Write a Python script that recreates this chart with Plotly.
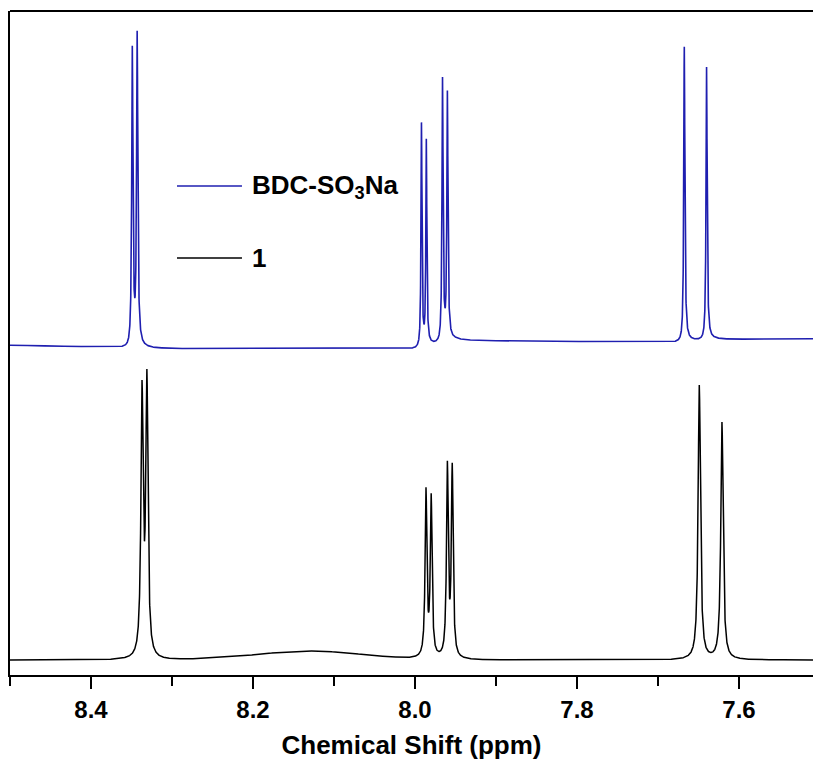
import numpy as np
import plotly.graph_objects as go

# ---------------- data ----------------
X_RANGE = [8.5, 7.5086]                      # ppm, reversed axis
TICK_VALS = [8.4, 8.2, 8.0, 7.8, 7.6]
TICK_TEXT = ["8.4", "8.2", "8.0", "7.8", "7.6"]
MINOR_TICK_VALS = [8.5, 8.3, 8.1, 7.9, 7.7]
X_TITLE = "Chemical Shift (ppm)"

# Upper spectrum (BDC-SO3Na): peak positions (ppm) and apex heights above baseline (a.u.)
BLUE_NAME = "BDC-SO<sub>3</sub>Na"
BLUE_PEAK_PPM = [8.349, 8.343, 7.992, 7.986, 7.966, 7.960, 7.6675, 7.640]
BLUE_PEAK_HEIGHT = [304, 316, 226, 207, 267, 250, 295, 273]
BLUE_PEAK_HWHM = [0.0009, 0.0009, 0.0007, 0.0007, 0.0008, 0.0008, 0.0008, 0.0008]
BLUE_DISPERSION = 0.04
BLUE_BASE_PPM = [8.50, 8.36, 8.335, 8.00, 7.95, 7.68, 7.63, 7.51]
BLUE_BASE_VAL = [330, 328, 326, 327, 334, 333, 335, 336]

# Lower spectrum (1)
BLACK_NAME = "1"
BLACK_PEAK_PPM = [8.337, 8.331, 7.9864, 7.980, 7.960, 7.954, 7.649, 7.621]
BLACK_PEAK_HEIGHT = [280, 291, 172, 166, 199, 197, 275, 238]
BLACK_PEAK_HWHM = [0.0016, 0.0016, 0.0013, 0.0013, 0.0013, 0.0013, 0.0017, 0.0017]
BLACK_HUMP_PPM = [8.13]
BLACK_HUMP_HEIGHT = [9]
BLACK_HUMP_SIGMA = [0.065]
BLACK_BASE_PPM = [8.50, 7.51]
BLACK_BASE_VAL = [15, 15]

BLUE_COLOR = "#1f1fb0"
BLACK_COLOR = "#000000"

# ---------------- build spectra from the peak tables ----------------
ppm = np.arange(8.5, 7.5, -0.0001)


def lorentz(x, x0, g):
    return 1.0 / (1.0 + ((x - x0) / g) ** 2)


def spectrum(pos, height, hwhm, base_ppm, base_val, disp=0.0,
             hump_pos=(), hump_h=(), hump_s=()):
    pos = np.array(pos); height = np.array(height, float); hwhm = np.array(hwhm)
    # amplitudes such that the summed apexes equal the read heights
    M = np.array([[lorentz(p, q, g) for q, g in zip(pos, hwhm)] for p in pos])
    amp = np.linalg.solve(M, height)
    y = np.interp(ppm[::-1], base_ppm[::-1], base_val[::-1])[::-1].astype(float)
    for a, q, g in zip(amp, pos, hwhm):
        d = (ppm - q) / g
        y += a / (1 + d ** 2)
        y += -disp * a * d / (1 + d ** 2)
    for q, h, s in zip(hump_pos, hump_h, hump_s):
        y += h * np.exp(-0.5 * ((ppm - q) / s) ** 2)
    return y


blue_y = spectrum(BLUE_PEAK_PPM, BLUE_PEAK_HEIGHT, BLUE_PEAK_HWHM,
                  BLUE_BASE_PPM, BLUE_BASE_VAL, disp=BLUE_DISPERSION)
black_y = spectrum(BLACK_PEAK_PPM, BLACK_PEAK_HEIGHT, BLACK_PEAK_HWHM,
                   BLACK_BASE_PPM, BLACK_BASE_VAL,
                   hump_pos=BLACK_HUMP_PPM, hump_h=BLACK_HUMP_HEIGHT,
                   hump_s=BLACK_HUMP_SIGMA)

FONT = "Liberation Sans, Arial, sans-serif"

fig = go.Figure()
fig.add_trace(go.Scatter(x=ppm, y=blue_y, mode="lines", name=BLUE_NAME,
                         line=dict(color=BLUE_COLOR, width=1.6), showlegend=False))
fig.add_trace(go.Scatter(x=ppm, y=black_y, mode="lines", name=BLACK_NAME,
                         line=dict(color=BLACK_COLOR, width=1.5), showlegend=False))

# legend drawn by hand (long line samples as in the original)
LEG_X0, LEG_X1, LEG_TX = 8.2938, 8.2136, 8.2037
LEG_Y = [489, 417]
for yv, col, txt in [(LEG_Y[0], BLUE_COLOR, BLUE_NAME), (LEG_Y[1], BLACK_COLOR, BLACK_NAME)]:
    fig.add_shape(type="line", xref="x", yref="y", x0=LEG_X0, x1=LEG_X1, y0=yv, y1=yv,
                  line=dict(color=col, width=1.5))
    fig.add_annotation(x=LEG_TX, y=yv, xref="x", yref="y", text=txt, showarrow=False,
                       xanchor="left", yanchor="middle",
                       font=dict(family=FONT, size=26, color="black", weight="bold"))

# top frame line
fig.add_shape(type="line", xref="paper", yref="paper", x0=0, x1=1, y0=1, y1=1,
              line=dict(color="black", width=2))

fig.update_layout(
    width=813, height=763,
    margin=dict(l=10, r=0, t=11, b=88),
    paper_bgcolor="white", plot_bgcolor="white",
    xaxis=dict(range=X_RANGE, tickvals=TICK_VALS, ticktext=TICK_TEXT,
               ticks="outside", ticklen=12, tickwidth=2, tickcolor="black",
               showline=True, linewidth=2, linecolor="black",
               showgrid=False, zeroline=False,
               minor=dict(tickvals=MINOR_TICK_VALS, ticks="outside", ticklen=9,
                          tickwidth=2, tickcolor="black"),
               tickfont=dict(family=FONT, size=24, color="black", weight="bold"),
               title=dict(text=X_TITLE, standoff=14,
                          font=dict(family=FONT, size=26, color="black", weight="bold"))),
    yaxis=dict(range=[0, 664], showticklabels=False, ticks="",
               showline=True, linewidth=2, linecolor="black",
               showgrid=False, zeroline=False),
)

fig.write_html("out.html", config={"displayModeBar": False},
               post_script="document.body.style.margin='0';document.body.style.overflow='hidden';")
